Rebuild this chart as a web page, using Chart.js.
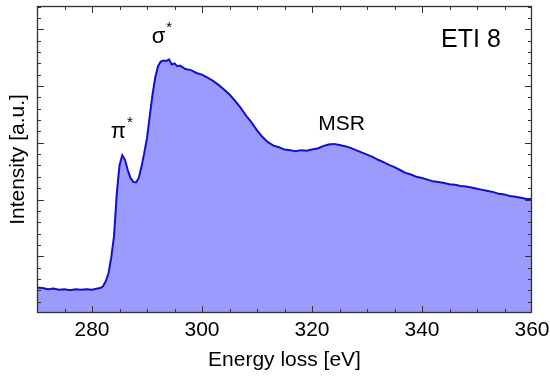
<!DOCTYPE html>
<html>
<head>
<meta charset="utf-8">
<script src="https://cdn.jsdelivr.net/npm/chart.js@4.4.1/dist/chart.umd.min.js"></script>
<style>
  html, body { margin: 0; padding: 0; background: #fff; }
  #wrap { width: 550px; height: 378px; }
</style>
</head>
<body>
<div id="wrap"><canvas id="chart" width="550" height="378"></canvas></div>
<script>
// EELS spectrum, energy loss in eV vs intensity (arbitrary units)
const energy = [
  270, 271, 272, 273, 274, 275, 276, 277, 278, 279, 280, 281,
  281.5, 282, 282.5, 283, 283.5, 284, 284.5, 285, 285.5, 286, 286.5, 287, 287.5,
  288, 288.5, 289, 289.5, 290, 290.5, 291, 291.5, 292, 292.5, 293, 293.5, 294,
  294.5, 295, 295.5, 296, 297, 298, 299, 300, 301, 302, 303, 304, 305, 306,
  307, 308, 309, 310, 311, 312, 313, 314, 315, 316, 317, 318, 319, 320, 321,
  322, 323, 324, 325, 326, 327, 328, 329, 330, 331, 332, 333, 334, 335, 336,
  337, 338, 339, 340, 341, 342, 343, 344, 345, 346, 347, 348, 349, 350, 351,
  352, 353, 354, 355, 356, 357, 358, 359, 360
];
const intensity = [
  0.45, 0.44, 0.42, 0.43, 0.41, 0.42, 0.40, 0.42, 0.41, 0.42, 0.41, 0.43,
  0.44, 0.47, 0.56, 0.70, 0.98, 1.35, 2.10, 2.60, 2.78, 2.70, 2.52, 2.38, 2.31,
  2.30, 2.38, 2.58, 2.82, 3.08, 3.47, 3.85, 4.15, 4.35, 4.43, 4.45, 4.44, 4.47,
  4.38, 4.40, 4.35, 4.36, 4.30, 4.28, 4.23, 4.20, 4.15, 4.09, 4.02, 3.94, 3.85, 3.74,
  3.62, 3.48, 3.36, 3.22, 3.10, 3.01, 2.95, 2.92, 2.88, 2.87, 2.85, 2.87, 2.86, 2.88, 2.90,
  2.94, 2.97, 2.98, 2.96, 2.94, 2.91, 2.87, 2.83, 2.79, 2.75, 2.70, 2.66, 2.61, 2.57, 2.52,
  2.47, 2.44, 2.40, 2.38, 2.35, 2.32, 2.31, 2.29, 2.27, 2.26, 2.24, 2.23, 2.21, 2.19, 2.17,
  2.15, 2.13, 2.10, 2.09, 2.06, 2.05, 2.03, 2.01, 2.01
];

const xLabelTicks = [280, 300, 320, 340, 360];
const xTickMarks = [275, 280, 285, 290, 295, 300, 305, 310, 315, 320, 325, 330,
  335, 340, 345, 350, 355];
const yMajorTicks = [1, 2, 3, 4, 5];
const yTickMarks = [0.2, 0.4, 0.6, 0.8, 1, 1.2, 1.4, 1.6, 1.8, 2, 2.2, 2.4, 2.6,
  2.8, 3, 3.2, 3.4, 3.6, 3.8, 4, 4.2, 4.4, 4.6, 4.8, 5, 5.2, 5.4];

const labels = [
  { text: 'ETI 8', x: 348.9, y: 4.69, size: 25 },
  { text: 'MSR', x: 325.4, y: 3.23, size: 21 },
  { text: '\u03c3', x: 292.1, y: 4.76, size: 22, sup: '*' },
  { text: '\u03c0', x: 284.8, y: 3.09, size: 22, sup: '*' }
];

const FONT = '"Liberation Sans", Arial, sans-serif';

// ticks pointing into the plot, box frame, and peak labels
const frameAndLabels = {
  id: 'frameAndLabels',
  afterDraw(chart) {
    const { ctx, chartArea: a, scales: { x, y } } = chart;
    ctx.save();
    ctx.strokeStyle = '#333';
    ctx.lineWidth = 1;
    ctx.beginPath();
    xTickMarks.forEach(v => {
      const px = Math.round(x.getPixelForValue(v)) + 0.5;
      const len = xLabelTicks.includes(v) ? 7 : 4;
      ctx.moveTo(px, a.bottom); ctx.lineTo(px, a.bottom - len);
      ctx.moveTo(px, a.top); ctx.lineTo(px, a.top + len);
    });
    yTickMarks.forEach(v => {
      const py = Math.round(y.getPixelForValue(v)) + 0.5;
      const len = yMajorTicks.includes(v) ? 7 : 4;
      ctx.moveTo(a.left, py); ctx.lineTo(a.left + len, py);
      ctx.moveTo(a.right, py); ctx.lineTo(a.right - len, py);
    });
    ctx.stroke();
    ctx.lineWidth = 1.3;
    ctx.strokeRect(a.left + 0.5, a.top + 0.5, a.right - a.left - 1, a.bottom - a.top - 1);

    ctx.fillStyle = '#000';
    ctx.textBaseline = 'alphabetic';
    labels.forEach(l => {
      const px = x.getPixelForValue(l.x);
      const py = y.getPixelForValue(l.y);
      ctx.font = l.size + 'px ' + FONT;
      ctx.textAlign = 'center';
      ctx.fillText(l.text, px, py);
      if (l.sup) {
        const w = ctx.measureText(l.text).width;
        ctx.font = '15px ' + FONT;
        ctx.textAlign = 'left';
        ctx.fillText(l.sup, px + w / 2 + 1, py - 11);
      }
    });
    ctx.restore();
  }
};

new Chart(document.getElementById('chart'), {
  type: 'line',
  data: {
    datasets: [{
      data: energy.map((e, i) => ({ x: e, y: intensity[i] })),
      borderColor: '#1010cc',
      borderWidth: 2,
      backgroundColor: '#9b9bfd',
      fill: 'origin',
      pointRadius: 0,
      tension: 0
    }]
  },
  options: {
    responsive: false,
    animation: false,
    layout: { padding: { top: 6, right: 18, left: 0, bottom: 0 } },
    plugins: { legend: { display: false }, tooltip: { enabled: false } },
    scales: {
      x: {
        type: 'linear',
        min: 270,
        max: 360,
        afterBuildTicks: s => { s.ticks = xLabelTicks.map(v => ({ value: v })); },
        afterFit: s => { s.height = 65; s.paddingLeft = 0; s.paddingRight = 0; },
        grid: { display: false, drawTicks: false },
        border: { display: false },
        ticks: { color: '#000', padding: 5, font: { family: FONT, size: 21 }, maxRotation: 0 },
        title: {
          display: true,
          text: 'Energy loss [eV]',
          color: '#000',
          font: { family: FONT, size: 21 },
          padding: { top: 0, bottom: 5 }
        }
      },
      y: {
        min: 0,
        max: 5.41,
        afterBuildTicks: s => { s.ticks = []; },
        afterFit: s => { s.width = 37; },
        grid: { display: false, drawTicks: false },
        border: { display: false },
        ticks: { display: false },
        title: {
          display: true,
          text: 'Intensity [a.u.]',
          color: '#000',
          font: { family: FONT, size: 21 },
          padding: { top: 6, bottom: 0 }
        }
      }
    }
  },
  plugins: [frameAndLabels]
});
</script>
</body>
</html>
